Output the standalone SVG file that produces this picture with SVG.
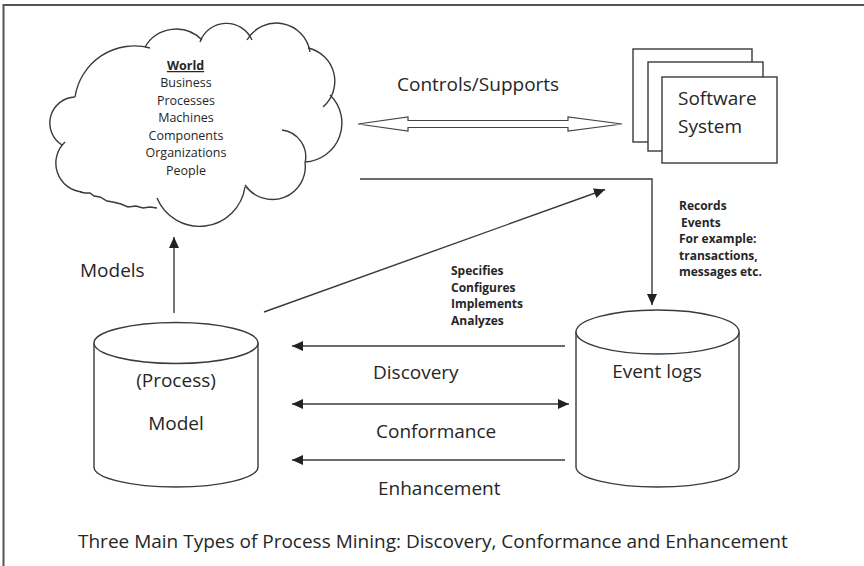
<svg xmlns="http://www.w3.org/2000/svg" width="864" height="566" viewBox="0 0 864 566">
  <style>
    .ln { fill: none; stroke: #3a3a3a; stroke-width: 1.4; }
    .shape { fill: #fff; stroke: #3a3a3a; stroke-width: 1.4; }
    .t { font-family: "Open Sans", "Liberation Sans", sans-serif; fill: #262626; }
    .big { font-size: 19px; }
    .cl { font-size: 12.5px; text-anchor: middle; }
    .sm { font-size: 12px; font-weight: bold; }
    .mid { text-anchor: middle; }
  </style>
  <defs>
    <marker id="arrow" markerUnits="userSpaceOnUse" markerWidth="12" markerHeight="11" refX="11" refY="5" orient="auto-start-reverse">
      <path d="M0,0 L11,5 L0,10 z" fill="#222"/>
    </marker>
  </defs>

  <rect width="864" height="566" fill="#fff"/>

  <!-- page frame (top and left edges) -->
  <path d="M3.5,566 V5 H864" fill="none" stroke="#555" stroke-width="2"/>

  <!-- World cloud -->
  <g id="world">
    <path class="ln" d="M75,97 A60,60 0 0 1 150,48
      M145,47 A36,36 0 0 1 202,40
      M200,42 A28,28 0 0 1 252,40
      M247,40 A34,34 0 0 1 310,52
      M308,48 A34,34 0 0 1 323,107
      M330,95 A39,39 0 0 1 305,162
      M282,130 A27,27 0 0 1 305,163
      M305,162 A33,33 0 0 1 245,185
      M245,187 A46,46 0 0 1 157,198
      M157,208 L150,207 L143,208 L136,206 L128,207 L121,204 L113,202 L107,201 L100,197 L94,196 L90,193 L85,193 L80,192
      M82,192 A29,29 0 0 1 65,142
      M62,145 A26,26 0 0 1 75,97"/>
    <text class="t cl" x="185.5" y="70" font-weight="bold" text-decoration="underline">World</text>
    <text class="t cl" x="186" y="87">Business</text>
    <text class="t cl" x="186" y="104.5">Processes</text>
    <text class="t cl" x="186" y="122">Machines</text>
    <text class="t cl" x="186" y="139.5">Components</text>
    <text class="t cl" x="186" y="157">Organizations</text>
    <text class="t cl" x="186" y="174.5">People</text>
  </g>

  <!-- Software system (stacked sheets) -->
  <g id="software">
    <rect class="shape" x="633" y="49" width="119" height="93"/>
    <rect class="shape" x="648" y="62" width="115" height="89"/>
    <rect class="shape" x="662" y="77" width="115" height="86"/>
    <text class="t big" x="678" y="105">Software</text>
    <text class="t big" x="678" y="133">System</text>
  </g>

  <!-- Process model store -->
  <g id="model">
    <path class="shape" d="M94,343 V467 A82,20 0 0 0 258,467 V343"/>
    <ellipse class="shape" cx="176" cy="343" rx="82" ry="20.5"/>
    <text class="t big mid" x="176" y="387">(Process)</text>
    <text class="t big mid" x="176" y="430">Model</text>
  </g>

  <!-- Event log store -->
  <g id="eventlogs">
    <path class="shape" d="M576,332 V467 A81.5,20 0 0 0 739,467 V332"/>
    <ellipse class="shape" cx="657.5" cy="332" rx="81.5" ry="22"/>
    <text class="t big mid" x="657" y="378">Event logs</text>
  </g>

  <!-- connectors -->
  <g id="connectors">
    <!-- controls/supports: hollow double arrow -->
    <polygon points="358,124 408,117 408,120.5 568,120.5 568,117 622,124 568,131 568,127.5 408,127.5 408,131" fill="#fff" stroke="#444" stroke-width="1.2" stroke-linejoin="miter"/>
    <!-- world to event logs (records) -->
    <path class="ln" d="M360,179 H652 V305" marker-end="url(#arrow)"/>
    <!-- model specifies software -->
    <line class="ln" x1="264" y1="312" x2="605" y2="189.5" marker-end="url(#arrow)"/>
    <!-- model describes world -->
    <line class="ln" x1="174" y1="313" x2="174" y2="237" marker-end="url(#arrow)"/>
    <!-- discovery -->
    <line class="ln" x1="565" y1="346" x2="292" y2="346" marker-end="url(#arrow)"/>
    <!-- conformance -->
    <line class="ln" x1="292" y1="404" x2="569" y2="404" marker-start="url(#arrow)" marker-end="url(#arrow)"/>
    <!-- enhancement -->
    <line class="ln" x1="565" y1="460" x2="292" y2="460" marker-end="url(#arrow)"/>
  </g>

  <!-- edge labels -->
  <g id="labels">
    <text class="t big" x="397" y="91">Controls/Supports</text>
    <text class="t big" x="80" y="277">Models</text>
    <text class="t sm" x="451" y="275">Specifies</text>
    <text class="t sm" x="451" y="291.5">Configures</text>
    <text class="t sm" x="451" y="308">Implements</text>
    <text class="t sm" x="451" y="324.5">Analyzes</text>
    <text class="t sm" x="679" y="210">Records</text>
    <text class="t sm" x="681" y="226.5">Events</text>
    <text class="t sm" x="679" y="243">For example:</text>
    <text class="t sm" x="679" y="259.5">transactions,</text>
    <text class="t sm" x="679" y="276">messages etc.</text>
    <text class="t big" x="373" y="379">Discovery</text>
    <text class="t big" x="376" y="438">Conformance</text>
    <text class="t big" x="378" y="495">Enhancement</text>
  </g>

  <text class="t big" x="78" y="548">Three Main Types of Process Mining: Discovery, Conformance and Enhancement</text>
</svg>
